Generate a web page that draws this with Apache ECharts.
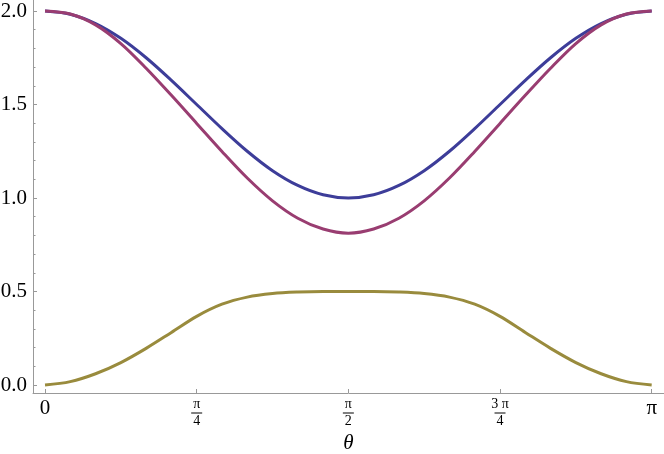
<!DOCTYPE html>
<html><head><meta charset="utf-8">
<script src="https://cdn.jsdelivr.net/npm/echarts@6/dist/echarts.min.js"></script>
<style>html,body{margin:0;padding:0;background:#fff}#c{width:664px;height:454px}</style>
</head><body><div id="c"></div>
<script>
// θ sample positions, in units of π/24
const steps = [0,1,2,3,4,5,6,7,8,9,10,11,12,13,14,15,16,17,18,19,20,21,22,23,24];
// values
const blueVals   = [2.0,1.983,1.933,1.854,1.75,1.629,1.5,1.371,1.25,1.146,1.067,1.017,1.0,1.017,1.067,1.146,1.25,1.371,1.5,1.629,1.75,1.854,1.933,1.983,2.0];
const purpleVals = [2.0,1.984,1.926,1.826,1.694,1.549,1.399,1.249,1.107,0.985,0.892,0.834,0.812,0.834,0.892,0.985,1.107,1.249,1.399,1.549,1.694,1.826,1.926,1.984,2.0];
const goldVals   = [0.0,0.018,0.06,0.12,0.196,0.281,0.367,0.432,0.47,0.489,0.497,0.5,0.5,0.5,0.497,0.489,0.47,0.432,0.367,0.281,0.196,0.12,0.06,0.018,0.0];

// tick values (x in units of π)
const xTickValues = [0, 0.25, 0.5, 0.75, 1];
const xTickLabels = ['{big|0}', '{n|π}\n{bar| }\n{d|4}', '{n|π}\n{bar| }\n{d|2}', '{n|3 π}\n{bar| }\n{d|4}', '{big|π}'];
const yTickValues = [0, 0.5, 1.0, 1.5, 2.0];
const yTickLabels = ['0.0', '0.5', '1.0', '1.5', '2.0'];
const yMinorTickValues = [0,0.1,0.2,0.3,0.4,0.5,0.6,0.7,0.8,0.9,1.0,1.1,1.2,1.3,1.4,1.5,1.6,1.7,1.8,1.9,2.0];
const xName = 'θ';

const serif = '"Liberation Serif","DejaVu Serif",serif';
const axisGray = '#999999';

function pairs(vals) { return steps.map((s, i) => [s / 24, vals[i]]); }

const chart = echarts.init(document.getElementById('c'), null, {renderer: 'canvas'});
chart.setOption({
  animation: false,
  backgroundColor: '#ffffff',
  grid: {left: 33, right: 0, top: 0, bottom: 61, containLabel: false, outerBoundsMode: 'none'},
  xAxis: {
    type: 'value', min: -0.0198, max: 1.0203,
    name: xName, nameLocation: 'middle', nameGap: 39,
    nameTextStyle: {fontFamily: serif, fontSize: 21, fontStyle: 'italic', color: '#000'},
    axisLine: {show: true, onZero: false, lineStyle: {color: axisGray, width: 1}},
    axisTick: {show: true, inside: true, length: 4, customValues: xTickValues, lineStyle: {color: axisGray}},
    splitLine: {show: false},
    axisLabel: {
      customValues: xTickValues, margin: 5, color: '#000', fontFamily: serif,
      formatter: v => { const i = xTickValues.findIndex(t => Math.abs(t - v) < 1e-9); return i >= 0 ? xTickLabels[i] : ''; },
      rich: {
        big: {fontFamily: serif, fontSize: 21, lineHeight: 20, color: '#000', align: 'center'},
        n: {fontFamily: serif, fontSize: 14, lineHeight: 13, color: '#000', align: 'center'},
        bar: {width: 11, height: 1, lineHeight: 4, backgroundColor: '#000', fontSize: 1, align: 'center'},
        d: {fontFamily: serif, fontSize: 14, lineHeight: 13, color: '#000', align: 'center'}
      }
    }
  },
  yAxis: [{
    type: 'value', min: -0.0428, max: 2.0588, position: 'left',
    axisLine: {show: true, onZero: false, lineStyle: {color: axisGray, width: 1}},
    axisTick: {show: true, inside: true, length: 4, customValues: yTickValues, lineStyle: {color: axisGray}},
    splitLine: {show: false},
    axisLabel: {
      customValues: yTickValues, margin: 6, color: '#000', fontFamily: serif, fontSize: 21,
      formatter: v => { const i = yTickValues.findIndex(t => Math.abs(t - v) < 1e-9); return i >= 0 ? yTickLabels[i] : ''; }
    }
  }, {
    type: 'value', min: -0.0428, max: 2.0588, position: 'left', offset: 0,
    axisLine: {show: false, onZero: false},
    axisTick: {show: true, inside: true, length: 2.5, customValues: yMinorTickValues, lineStyle: {color: axisGray}},
    splitLine: {show: false},
    axisLabel: {show: false}
  }],
  series: [
    {type: 'line', data: pairs(blueVals), showSymbol: false, smooth: 0.33, lineStyle: {color: '#3d3d99', width: 3}, z: 2},
    {type: 'line', data: pairs(purpleVals), showSymbol: false, smooth: 0.33, lineStyle: {color: '#993d71', width: 3}, z: 3},
    {type: 'line', data: pairs(goldVals), showSymbol: false, smooth: 0.33, lineStyle: {color: '#998b3d', width: 3}, z: 4}
  ]
});
</script>
</body></html>
